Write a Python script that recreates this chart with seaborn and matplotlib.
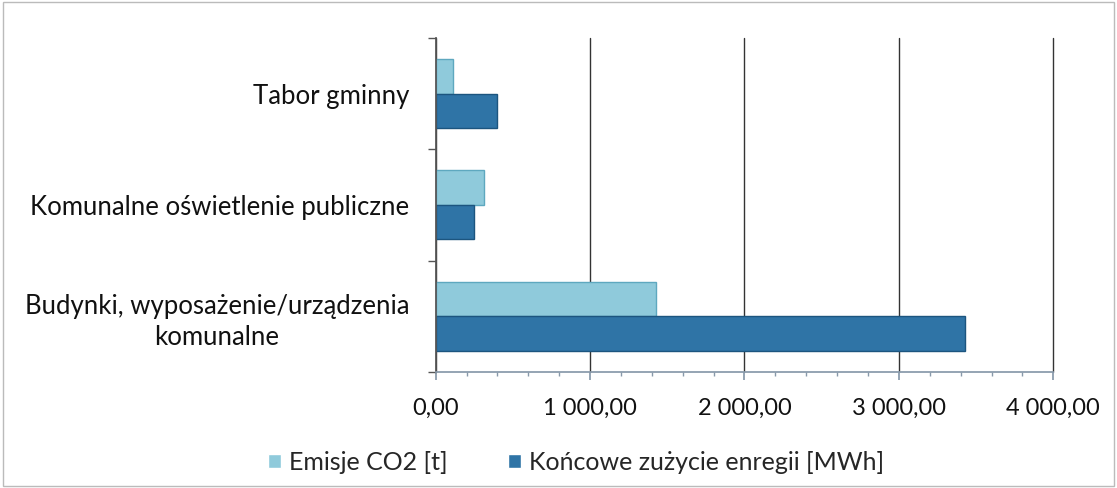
import matplotlib
matplotlib.use("Agg")
import matplotlib.pyplot as plt
import seaborn as sns
import pandas as pd
from matplotlib.ticker import FuncFormatter, MultipleLocator, FixedLocator
from matplotlib.patches import Rectangle

categories = ["Tabor gminny",
              "Komunalne oświetlenie publiczne",
              "Budynki, wyposażenie/urządzenia\nkomunalne"]
series = ["Emisje CO2 [t]", "Końcowe zużycie enregii [MWh]"]
emisje = [110, 310, 1428]
zuzycie = [395, 250, 3428]

df = pd.DataFrame({
    "kat": categories * 2,
    "seria": [series[0]] * 3 + [series[1]] * 3,
    "val": emisje + zuzycie,
})

sns.set_theme(style="white")
plt.rcParams["font.family"] = ["Lato", "DejaVu Sans"]

fig = plt.figure(figsize=(11.17, 4.88), dpi=100)
ax = fig.add_axes([0.390, 0.238, 0.553, 0.684])

colors = ["#8fcadb", "#2f74a6"]
sns.barplot(data=df, y="kat", x="val", hue="seria", order=categories,
            hue_order=series, palette=colors, orient="h", width=0.62,
            ax=ax, legend=True, saturation=1)
for patch, ec in zip(ax.patches[:6], ["#5ea8bf"] * 3 + ["#1c557f"] * 3):
    patch.set_edgecolor(ec)
    patch.set_linewidth(1)

ax.set_xlim(0, 4000)
ax.set_ylim(2.5, -0.5)
ax.xaxis.set_major_locator(MultipleLocator(1000))
ax.xaxis.set_minor_locator(MultipleLocator(200))
ax.xaxis.set_major_formatter(FuncFormatter(
    lambda v, p: f"{v:,.2f}".replace(",", " ").replace(".", ",")))
ax.grid(axis="x", color="#333333", linewidth=1)
for gl in ax.get_xgridlines():
    gl.set_clip_on(False)
ax.set_axisbelow(True)
ax.set_xlabel("")
ax.set_ylabel("")

for s in ["top", "right"]:
    ax.spines[s].set_visible(False)
ax.spines["left"].set_color("#555555")
ax.spines["bottom"].set_color("#8899aa")

ax.tick_params(axis="x", which="major", bottom=True, length=6, color="#8899aa",
               labelsize=17, pad=13, labelcolor="#111111")
ax.tick_params(axis="x", which="minor", bottom=True, length=3, color="#8899aa")
ax.set_yticks([0, 1, 2])
ax.set_yticklabels(categories, fontsize=18.5, color="#111111",
                   multialignment="center", linespacing=1.3)
ax.tick_params(axis="y", which="major", left=False, pad=13)
ax.yaxis.set_minor_locator(FixedLocator([-0.5, 0.5, 1.5, 2.5]))
ax.tick_params(axis="y", which="minor", left=True, length=6, color="#555555")

handles, labels = ax.get_legend_handles_labels()
ax.legend(handles, labels, loc="center", bbox_to_anchor=(0.516, 0.052),
          bbox_transform=fig.transFigure, ncol=2, frameon=False, fontsize=18,
          handlelength=0.5, handleheight=0.5, handletextpad=0.35, columnspacing=2.4)

fig.patches.append(Rectangle((0.003, 0.005), 0.994, 0.99, transform=fig.transFigure,
                             fill=False, edgecolor="#bbbbbb", linewidth=1))

fig.savefig("out.png", dpi=100, facecolor="white")
